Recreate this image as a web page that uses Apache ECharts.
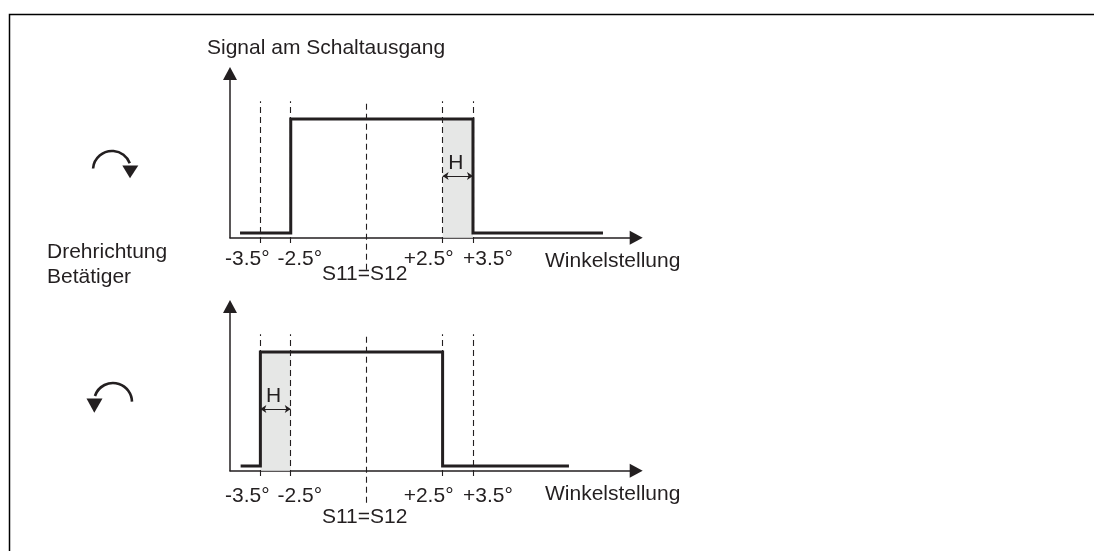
<!DOCTYPE html>
<html><head><meta charset="utf-8">
<script src="https://cdn.jsdelivr.net/npm/echarts@6/dist/echarts.min.js"></script>
<style>html,body{margin:0;padding:0;background:#fff}#c{width:1094px;height:551px}</style>
</head><body><div id="c"></div>
<script>
// ---- data ----
const tickValues = [-3.5, -2.5, 0, 2.5, 3.5];
const tickLabels = ['-3.5°', '-2.5°', '', '+2.5°', '+3.5°'];
const centerLabel = 'S11=S12';
const xAxisName = 'Winkelstellung';
const yAxisName = 'Signal am Schaltausgang';
const directionLabel = ['Drehrichtung', 'Betätiger'];
const hysteresisLabel = 'H';
// top panel: clockwise rotation
const cwSignalX = [-4.17, -2.5, -2.5, 3.5, 3.5, 7.78];
const cwSignalY = [0.04, 0.04, 1, 1, 0.04, 0.04];
const cwHysteresis = [2.5, 3.5];
// bottom panel: counter-clockwise rotation
const ccwSignalX = [-4.15, -3.5, -3.5, 2.5, 2.5, 6.66];
const ccwSignalY = [0.04, 0.04, 1, 1, 0.04, 0.04];
const ccwHysteresis = [-3.5, -2.5];
const dashTop = 1.15;
const dashBottomTick = -0.045;
const dashBottomCenter = -0.27;
const hArrowLevel = 0.52;
const hLabelLevel = 0.63;
const signalHigh = 1;

// ---- styling ----
const INK = '#231f20';
const FONT = '"Liberation Sans", Arial, Helvetica, sans-serif';
const FS = 21;
const labelShift = [-13, 9, 0, -14, 15];
const panels = [
  { sx: cwSignalX, sy: cwSignalY, hyst: cwHysteresis, tickDy: 21.5, centerDy: 37 },
  { sx: ccwSignalX, sy: ccwSignalY, hyst: ccwHysteresis, tickDy: 25.5, centerDy: 47 }
];

const chart = echarts.init(document.getElementById('c'), null, { renderer: 'canvas' });

const grids = [
  { left: 230, top: 73.5, width: 406.2, height: 164.2 },
  { left: 230, top: 306.5, width: 406.2, height: 164.2 }
];
const axisLineStyle = { color: INK, width: 1.5 };
const xAxes = grids.map((g, i) => ({
  type: 'value', gridIndex: i, min: -4.5, max: 8.874,
  axisLine: { show: true, onZero: false, symbol: ['none', 'triangle'], symbolSize: [14, 13], lineStyle: axisLineStyle },
  axisTick: { show: false }, axisLabel: { show: false }, splitLine: { show: false }
}));
const yAxes = grids.map((g, i) => ({
  type: 'value', gridIndex: i, min: 0, max: 1.383,
  axisLine: { show: true, onZero: false, symbol: ['none', 'triangle'], symbolSize: [14, 13], lineStyle: axisLineStyle },
  axisTick: { show: false }, axisLabel: { show: false }, splitLine: { show: false }
}));

const series = [];
panels.forEach((p, i) => {
  // dashed reference lines
  series.push({
    type: 'lines', coordinateSystem: 'cartesian2d', xAxisIndex: i, yAxisIndex: i,
    clip: false, silent: true, z: 3,
    lineStyle: { color: INK, width: 1.1, type: [6, 4], opacity: 1, curveness: 0 },
    data: tickValues.map(v => ({ coords: [[v, v === 0 ? dashBottomCenter : dashBottomTick], [v, dashTop]] }))
  });
  // switching signal
  series.push({
    type: 'line', xAxisIndex: i, yAxisIndex: i, symbol: 'none', z: 4, clip: false,
    lineStyle: { color: INK, width: 3, join: 'miter', cap: 'butt' },
    data: p.sx.map((x, k) => [x, p.sy[k]]),
    markArea: {
      silent: true,
      itemStyle: { color: '#e6e7e6', opacity: 1 },
      data: [[{ coord: [p.hyst[0], 0] }, { coord: [p.hyst[1], signalHigh] }]]
    }
  });
  // hysteresis arrow
  series.push({
    type: 'lines', coordinateSystem: 'cartesian2d', xAxisIndex: i, yAxisIndex: i,
    clip: false, silent: true, z: 5,
    symbol: ['arrow', 'arrow'], symbolSize: 6,
    lineStyle: { color: INK, width: 1, opacity: 1 },
    data: [{ coords: [[p.hyst[0], hArrowLevel], [p.hyst[1], hArrowLevel]] }]
  });
  // labels
  const labelData = [];
  tickValues.forEach((v, k) => {
    if (tickLabels[k]) labelData.push({ value: [v, 0], label: { formatter: tickLabels[k], offset: [labelShift[k], p.tickDy] } });
  });
  labelData.push({ value: [0, 0], label: { formatter: centerLabel, offset: [-2, p.centerDy] } });
  labelData.push({ value: [(p.hyst[0] + p.hyst[1]) / 2, hLabelLevel], label: { formatter: hysteresisLabel, offset: [-2, 0] } });
  series.push({
    type: 'scatter', xAxisIndex: i, yAxisIndex: i, clip: false, silent: true, z: 6,
    symbolSize: 1, itemStyle: { color: 'rgba(0,0,0,0)' },
    label: { show: true, position: 'inside', color: INK, fontFamily: FONT, fontSize: FS, opacity: 1 },
    data: labelData
  });
});

const txt = (x, y, text, extra) => Object.assign({
  type: 'text', x: x, y: y, silent: true,
  style: { text: text, fill: INK, font: FS + 'px ' + FONT, textAlign: 'left', textVerticalAlign: 'middle' }
}, extra || {});

const graphic = [
  { type: 'polyline', silent: true, shape: { points: [[9.5, 551], [9.5, 14.5], [1094, 14.5]] }, style: { stroke: '#000', lineWidth: 1.5, fill: null } },
  txt(207, 48, yAxisName),
  txt(545, 261.5, xAxisName),
  txt(545, 494, xAxisName),
  txt(47, 252, directionLabel[0]),
  txt(47, 277, directionLabel[1]),
  // clockwise arrow
  { type: 'arc', silent: true, shape: { cx: 112, cy: 170, r: 19, startAngle: Math.PI + 0.08, endAngle: 2 * Math.PI - 0.36, clockwise: true }, style: { stroke: INK, lineWidth: 2.6, fill: null } },
  { type: 'polygon', silent: true, shape: { points: [[122.3, 165.5], [138.3, 165.5], [130, 178.3]] }, style: { fill: INK } },
  // counter-clockwise arrow
  { type: 'arc', silent: true, shape: { cx: 113, cy: 402, r: 19, startAngle: Math.PI + 0.32, endAngle: 2 * Math.PI - 0.02, clockwise: true }, style: { stroke: INK, lineWidth: 2.6, fill: null } },
  { type: 'polygon', silent: true, shape: { points: [[86.5, 398.5], [102.5, 398.5], [94.3, 412.7]] }, style: { fill: INK } }
];

chart.setOption({
  animation: false,
  backgroundColor: '#fff',
  grid: grids,
  xAxis: xAxes,
  yAxis: yAxes,
  series: series,
  graphic: graphic
});
</script></body></html>
